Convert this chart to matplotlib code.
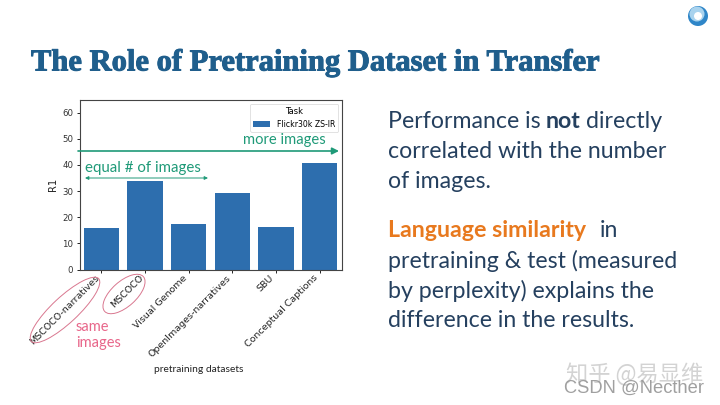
import matplotlib
matplotlib.use('Agg')
import matplotlib.pyplot as plt
import matplotlib.patheffects as pe
from matplotlib.patches import Ellipse, Circle
from matplotlib.transforms import ScaledTranslation

# Values
datasets = ['MSCOCO-narratives', 'MSCOCO', 'Visual Genome',
            'OpenImages-narratives', 'SBU', 'Conceptual Captions']
r1_values = [15.7, 33.7, 17.3, 29.2, 16.4, 40.8]
y_ticks = [0, 10, 20, 30, 40, 50, 60]

plt.rcParams['font.family'] = ['DejaVu Sans']
W, H = 720, 405
fig = plt.figure(figsize=(7.2, 4.05), dpi=100, facecolor='white')

# chart
ax = fig.add_axes([79.5 / W, 1 - 269.5 / H, 262 / W, 170 / H])
bars = ax.bar(range(len(datasets)), r1_values, width=0.81, color='#2d6eae',
              label='Flickr30k ZS-IR')
ax.set_xlim(-0.5, 5.5)
ax.set_ylim(0, 65)
ax.set_yticks(y_ticks)
ax.set_xticks(range(len(datasets)))
ax.set_xticklabels(datasets, rotation=45, ha='right', rotation_mode='anchor', fontsize=6.8, color='#222222')
ax.tick_params(axis='y', labelsize=6.2, length=2.5, width=0.6, pad=2, labelcolor='#333333')
ax.tick_params(axis='x', length=2.5, width=0.6, pad=2)
# tick_params resets label transforms, so the nudge has to come after it
shift = ScaledTranslation(-6.5 / 100, 2.5 / 100, fig.dpi_scale_trans)
for lab in ax.get_xticklabels():
    lab.set_transform(lab.get_transform() + shift)
for s in ax.spines.values():
    s.set_linewidth(0.8)
    s.set_color('#444444')
ax.set_ylabel('R1', fontsize=7.2, labelpad=3, color='#222222')
leg = ax.legend(title='Task', loc='upper right', fontsize=5.6, title_fontsize=6,
                bbox_to_anchor=(0.99, 0.98), borderaxespad=0.1, handlelength=2.2)
leg.get_frame().set_linewidth(0.5)

# overlay in pixel coordinates for the slide furniture
ov = fig.add_axes([0, 0, 1, 1], facecolor='none')
ov.set_xlim(0, W)
ov.set_ylim(H, 0)
ov.axis('off')

green = '#1f9a78'
pink = '#e8668a'
navy = '#25405f'
ov.annotate('', xy=(339, 151), xytext=(78, 151),
            arrowprops=dict(arrowstyle='-|>', color=green, lw=1.2, shrinkA=0, shrinkB=0))
ov.annotate('', xy=(208, 178), xytext=(85, 178),
            arrowprops=dict(arrowstyle='<|-|>', color=green, lw=0.7, shrinkA=0, shrinkB=0,
                            mutation_scale=5))
ov.text(326, 140, 'more images', color=green, fontsize=10.6, family='Lato', ha='right', va='center')
ov.text(85, 168, 'equal # of images', color=green, fontsize=10.8, family='Lato', ha='left', va='center')
ov.text(76, 327, 'same', color=pink, fontsize=10.5, family='Lato', ha='left', va='center')
ov.text(76, 343, 'images', color=pink, fontsize=10.5, family='Lato', ha='left', va='center')
ov.add_patch(Ellipse((65, 310), 92, 26, angle=-43, fill=False, ec='#d9778f', lw=0.7))
ov.add_patch(Ellipse((124, 294), 52, 25, angle=-42, fill=False, ec='#d9778f', lw=0.7))
ov.text(199, 370, 'pretraining datasets', fontsize=7.4, color='#222222', family='Lato', ha='center', va='center')

# title and body text
ov.text(31, 63, 'The Role of Pretraining Dataset in Transfer', family='Liberation Serif', weight='bold',
        fontsize=22, color='#1f5e8c', ha='left', va='center',
        path_effects=[pe.withStroke(linewidth=0.7, foreground='#1f5e8c')])
fs = 16.7
ov.text(388, 121.5, 'Performance is', fontsize=fs, family='Lato', color=navy, va='center')
ov.text(546, 121.5, 'not', fontsize=fs, family='Lato', weight='bold', color=navy, va='center')
ov.text(586, 121.5, 'directly', fontsize=fs, family='Lato', color=navy, va='center')
for line, y in [('correlated with the number', 151.5), ('of images.', 181.5)]:
    ov.text(388, y, line, fontsize=fs, family='Lato', color=navy, va='center')
ov.text(388, 230.5, 'Language similarity', fontsize=fs, family='Lato', weight='bold', color='#e8791e', va='center')
ov.text(600, 230.5, 'in', fontsize=fs, family='Lato', color=navy, va='center')
for line, y in [('pretraining & test (measured', 260.5), ('by perplexity) explains the', 290.5),
                ('difference in the results.', 320.5)]:
    ov.text(388, y, line, fontsize=fs, family='Lato', color=navy, va='center')

# logo
ov.add_patch(Circle((698, 16), 10, color='#2f86c8', lw=0))
ov.add_patch(Circle((697, 14), 7.5, color='#a9d3ee', lw=0))
ov.add_patch(Circle((698, 16), 4, color='white', lw=0))

# watermarks
ov.text(566, 375, '知乎 @易显维', family=['Noto Sans CJK SC', 'DejaVu Sans'], fontsize=16,
        color='#c8c8c8', alpha=0.8, va='center')
ov.text(564, 388, 'CSDN @Necther', family='Liberation Sans', fontsize=13.2, color='#969696',
        alpha=0.9, va='center')

fig.savefig('out.png', dpi=100)
